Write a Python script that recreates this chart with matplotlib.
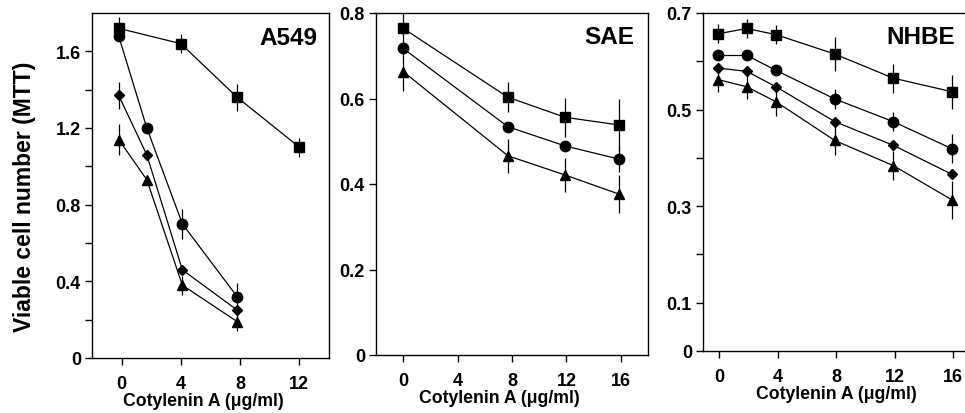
import matplotlib
matplotlib.use("Agg")
import matplotlib.pyplot as plt
import numpy as np

plt.rcParams['font.family'] = ['Liberation Sans', 'DejaVu Sans']
plt.rcParams['font.weight'] = 'bold'

# ---- A549 ----
a549_x_sq = [-0.2, 4.0, 7.8, 12.0]
a549_sq = [1.72, 1.64, 1.36, 1.10]
a549_sq_err = [0.06, 0.05, 0.07, 0.05]
a549_x = [-0.2, 1.7, 4.1, 7.8]
a549_ci = [1.68, 1.20, 0.70, 0.32]
a549_ci_err = [0.02, 0.02, 0.08, 0.07]
a549_di = [1.37, 1.06, 0.46, 0.25]
a549_di_err = [0.07, 0.02, 0.02, 0.02]
a549_tr = [1.14, 0.93, 0.38, 0.19]
a549_tr_err = [0.08, 0.02, 0.05, 0.05]

# ---- SAE ----
sae_x = [0.0, 7.7, 11.9, 15.9]
sae_sq = [0.764, 0.603, 0.556, 0.538]
sae_sq_err = [0.035, 0.035, 0.045, 0.06]
sae_ci = [0.717, 0.534, 0.489, 0.458]
sae_ci_err = [0.01, 0.01, 0.01, 0.03]
sae_tr = [0.663, 0.466, 0.421, 0.376]
sae_tr_err = [0.045, 0.04, 0.04, 0.045]

# ---- NHBE ----
nhbe_x = [-0.05, 1.9, 3.9, 7.9, 11.9, 15.9]
nhbe_sq = [0.657, 0.668, 0.655, 0.615, 0.565, 0.537]
nhbe_sq_err = [0.02, 0.02, 0.02, 0.035, 0.03, 0.035]
nhbe_ci = [0.612, 0.612, 0.581, 0.522, 0.475, 0.419]
nhbe_ci_err = [0.01, 0.01, 0.01, 0.02, 0.02, 0.03]
nhbe_di = [0.586, 0.579, 0.547, 0.475, 0.426, 0.366]
nhbe_di_err = [0.01, 0.01, 0.01, 0.01, 0.01, 0.01]
nhbe_tr = [0.562, 0.547, 0.516, 0.436, 0.384, 0.313]
nhbe_tr_err = [0.025, 0.025, 0.03, 0.03, 0.03, 0.04]

titles = ['A549', 'SAE', 'NHBE']
xlabel = 'Cotylenin A (\u03bcg/ml)'
ylabel = 'Viable cell number (MTT)'

fig = plt.figure(figsize=(9.65, 4.14), dpi=100)
W, H = 965, 414
def add_ax(l, r, t, b):
    return fig.add_axes([l / W, 1 - b / H, (r - l) / W, (b - t) / H])

ax1 = add_ax(92, 329, 14, 359)
ax2 = add_ax(376, 648, 14, 356)
ax3 = add_ax(703, 968, 14, 352)

styles = {
    'sq': dict(marker='s', ms=7.5),
    'ci': dict(marker='o', ms=7.5),
    'di': dict(marker='D', ms=5),
    'tr': dict(marker='^', ms=7.5),
}

def series(ax, x, y, e, kind):
    ax.errorbar(x, y, yerr=e, color='black', lw=0.9, elinewidth=0.9,
                capsize=0, mfc='black', mec='black', **styles[kind])

series(ax1, a549_x_sq, a549_sq, a549_sq_err, 'sq')
series(ax1, a549_x, a549_ci, a549_ci_err, 'ci')
series(ax1, a549_x, a549_di, a549_di_err, 'di')
series(ax1, a549_x, a549_tr, a549_tr_err, 'tr')

series(ax2, sae_x, sae_sq, sae_sq_err, 'sq')
series(ax2, sae_x, sae_ci, sae_ci_err, 'ci')
series(ax2, sae_x, sae_tr, sae_tr_err, 'tr')

series(ax3, nhbe_x, nhbe_sq, nhbe_sq_err, 'sq')
series(ax3, nhbe_x, nhbe_ci, nhbe_ci_err, 'ci')
series(ax3, nhbe_x, nhbe_di, nhbe_di_err, 'di')
series(ax3, nhbe_x, nhbe_tr, nhbe_tr_err, 'tr')

ax1.set_xlim(-2, 14)
ax1.set_ylim(0, 1.8)
ax1.set_xticks([0, 4, 8, 12])
ax1.set_yticks([0, 0.4, 0.8, 1.2, 1.6])
ax1.set_yticklabels(['0', '0.4', '0.8', '1.2', '1.6'])
ax1.set_yticks([0.2, 0.6, 1.0, 1.4], minor=True)

ax2.set_xlim(-2, 18)
ax2.set_ylim(0, 0.8)
ax2.set_xticks([0, 4, 8, 12, 16])
ax2.set_yticks([0, 0.2, 0.4, 0.6, 0.8])
ax2.set_yticklabels(['0', '0.2', '0.4', '0.6', '0.8'])

ax3.set_xlim(-1.1, 17)
ax3.set_ylim(0, 0.7)
ax3.set_xticks([0, 4, 8, 12, 16])
ax3.set_yticks([0, 0.1, 0.3, 0.5, 0.7])
ax3.set_yticklabels(['0', '0.1', '0.3', '0.5', '0.7'])
ax3.set_yticks([0.2, 0.4, 0.6], minor=True)

label_x = [0.47, 0.452, 0.502]
for ax, t, lx in zip([ax1, ax2, ax3], titles, label_x):
    ax.tick_params(which='both', direction='out', length=5, width=1,
                   labelsize=13, pad=3)
    ax.tick_params(axis='x', pad=7)
    for lab in ax.get_xticklabels() + ax.get_yticklabels():
        lab.set_fontweight('bold')
    for s in ax.spines.values():
        s.set_linewidth(1)
    ax.text(0.95, 0.93, t, transform=ax.transAxes, ha='right', va='center',
            fontsize=17.5, fontweight='bold')
    ax.set_xlabel(xlabel, fontsize=12.7, fontweight='bold', labelpad=0)
    ax.xaxis.label.set_x(lx)

fig.text(25 / W, 1 - 197 / H, ylabel, rotation=90, ha='center', va='center',
         fontsize=16.5, fontweight='bold')

fig.savefig('out.png', dpi=100)
